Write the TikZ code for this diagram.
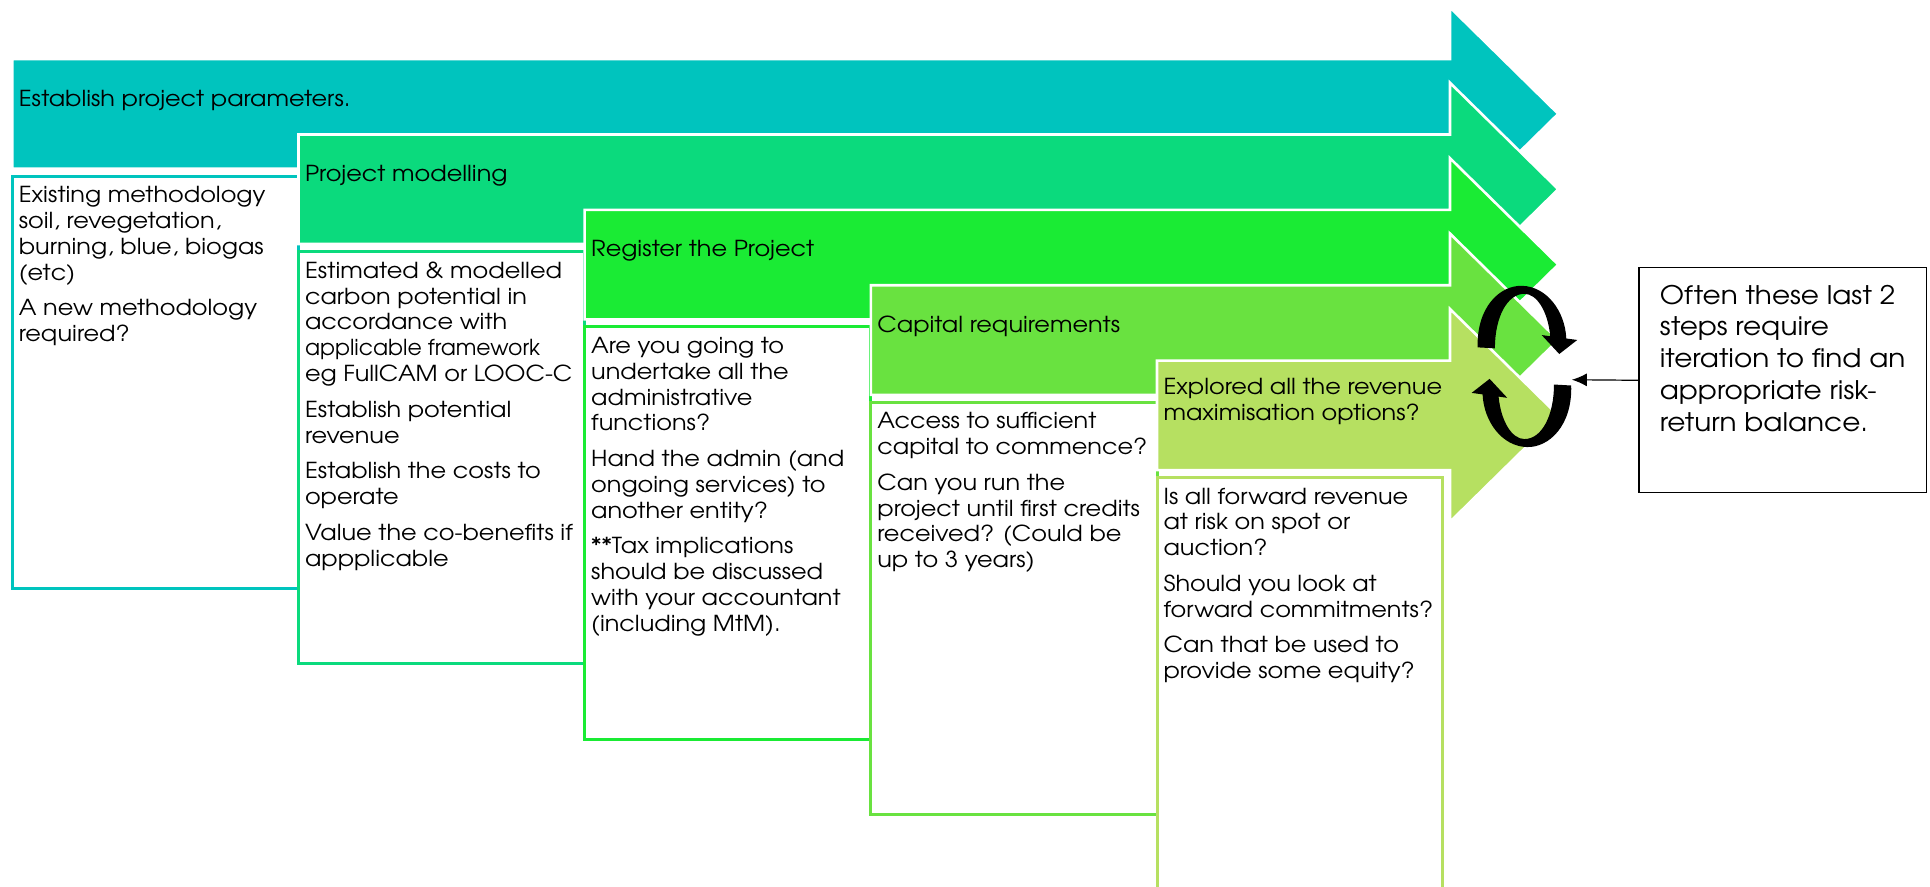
\documentclass[tikz,border=0pt]{standalone}
\usepackage{fontspec}
\setmainfont{TeX Gyre Adventor}[FakeStretch=1.09]
\newfontfamily\plainfont{TeX Gyre Adventor}
\usetikzlibrary{arrows.meta}
\definecolor{stepA}{HTML}{00C4BE}
\definecolor{stepB}{HTML}{0BDA7D}
\definecolor{stepC}{HTML}{1AEB34}
\definecolor{stepD}{HTML}{69E240}
\definecolor{stepE}{HTML}{B6E061}

\begin{document}
\begin{tikzpicture}[x=0.6155pt,y=-0.6155pt,
    bigarrow/.style={fill=#1,draw=white,line width=1.3pt,line join=miter},
    framebox/.style={draw=#1,line width=1.5pt,fill=white},
    steptitle/.style={anchor=west,inner sep=0pt,align=left,font=\fontsize{11}{12.93}\selectfont},
    steptext/.style={anchor=north west,inner sep=0pt,align=left,font=\fontsize{11}{12.93}\selectfont}]
    \useasboundingbox (0,0) rectangle (1568,720);
    \fill[white] (0,0) rectangle (1568,720);
    \clip (0,0) rectangle (1568,720);

    \path[bigarrow=stepA] (10,48) -- (1178,48) -- (1178,6) -- (1266,92.5) -- (1178,179) -- (1178,137) -- (10,137) -- cycle;
    \node (t1) [steptitle] at (15,82) {Establish project parameters.};
    \path[framebox=stepA] (10,143) rectangle (242.5,478);
    \node (b1) [steptext] at (15,151) {Existing methodology\\soil, revegetation,\\burning, blue, biogas\\(etc)\\[4.9pt]A new methodology\\required?};

    \path[bigarrow=stepB] (242.5,109.25) -- (1178,109.25) -- (1178,67.25) -- (1266,153.75) -- (1178,240.25) -- (1178,198.25) -- (242.5,198.25) -- cycle;
    \node (t2) [steptitle] at (247.5,143) {Project modelling};
    \path[framebox=stepB] (242.5,204.25) rectangle (475,539.25);
    \node (b2) [steptext] at (247.5,212.25) {Estimated \& modelled\\carbon potential in\\accordance with\\{\plainfont applicable framework}\\eg FullCAM or LOOC-C\\[4.9pt]Establish potential\\revenue\\[4.9pt]Establish the costs to\\operate\\[4.9pt]Value the co-benefits if\\appplicable};

    \path[bigarrow=stepC] (475,170.5) -- (1178,170.5) -- (1178,128.5) -- (1266,215) -- (1178,301.5) -- (1178,259.5) -- (475,259.5) -- cycle;
    \node (t3) [steptitle] at (480,204) {Register the Project};
    \path[framebox=stepC] (475,265.5) rectangle (707.5,600.5);
    \node (b3) [steptext] at (480,273.5) {Are you going to\\undertake all the\\administrative\\functions?\\[4.9pt]Hand the admin (and\\ongoing services) to\\another entity?\\[4.9pt]**Tax implications\\should be discussed\\with your accountant\\(including MtM).};

    \path[bigarrow=stepD] (707.5,231.75) -- (1178,231.75) -- (1178,189.75) -- (1266,276.25) -- (1178,362.75) -- (1178,320.75) -- (707.5,320.75) -- cycle;
    \node (t4) [steptitle] at (712.5,265.5) {Capital requirements};
    \path[framebox=stepD] (707.5,326.75) rectangle (940,661.75);
    \node (b4) [steptext] at (712.5,334.75) {Access to sufficient\\capital to commence?\\[4.9pt]Can you run the\\project until first credits\\received? (Could be\\up to 3 years)};

    \path[bigarrow=stepE] (940,293) -- (1178,293) -- (1178,251) -- (1266,337.5) -- (1178,424) -- (1178,382) -- (940,382) -- cycle;
    \node (t5) [steptitle] at (945,326.5) {Explored all the revenue\\maximisation options?};
    \path[framebox=stepE] (940,388) rectangle (1172,735);
    \node (b5) [steptext] at (945,396) {Is all forward revenue\\at risk on spot or\\auction?\\[4.9pt]Should you look at\\forward commitments?\\[4.9pt]Can that be used to\\provide some equity?};

    \begin{scope}[shift={(1238.5,297.7)}]
        \fill (-38,-15.5) .. controls (-39,-48) and (-20,-66) .. (-2,-65.5) .. controls (18,-65) and (33,-45) .. (34,-22.7) -- (42.9,-21.5) -- (28.3,-10.1) -- (14,-25.5) -- (21,-24.5) .. controls (19,-45) and (10,-59) .. (0,-59) .. controls (-14,-59) and (-24,-40) .. (-24,-14.7) -- cycle;
        \fill[rotate=180] (-38,-15.5) .. controls (-39,-48) and (-20,-66) .. (-2,-65.5) .. controls (18,-65) and (33,-45) .. (34,-22.7) -- (42.9,-21.5) -- (28.3,-10.1) -- (14,-25.5) -- (21,-24.5) .. controls (19,-45) and (10,-59) .. (0,-59) .. controls (-14,-59) and (-24,-40) .. (-24,-14.7) -- cycle;
    \end{scope}

    \node (N) [draw=black,line width=0.6pt,anchor=north west,inner xsep=0pt,inner ysep=0pt,text height=18.2pt,text depth=94.4pt,font=\fontsize{12.8}{15.94}\selectfont] at (1331,217) {\parbox[t]{144pt}{\raggedright\leftskip=10.5pt Often these last 2\\steps require\\iteration to find an\\appropriate risk-\\return balance.}};
    \coordinate (R) at (1277,308.5);
    \draw[line width=0.6pt,-{Latex[length=7.5pt,width=6.5pt]}] (N.west) -- (R);
\end{tikzpicture}
\end{document}
